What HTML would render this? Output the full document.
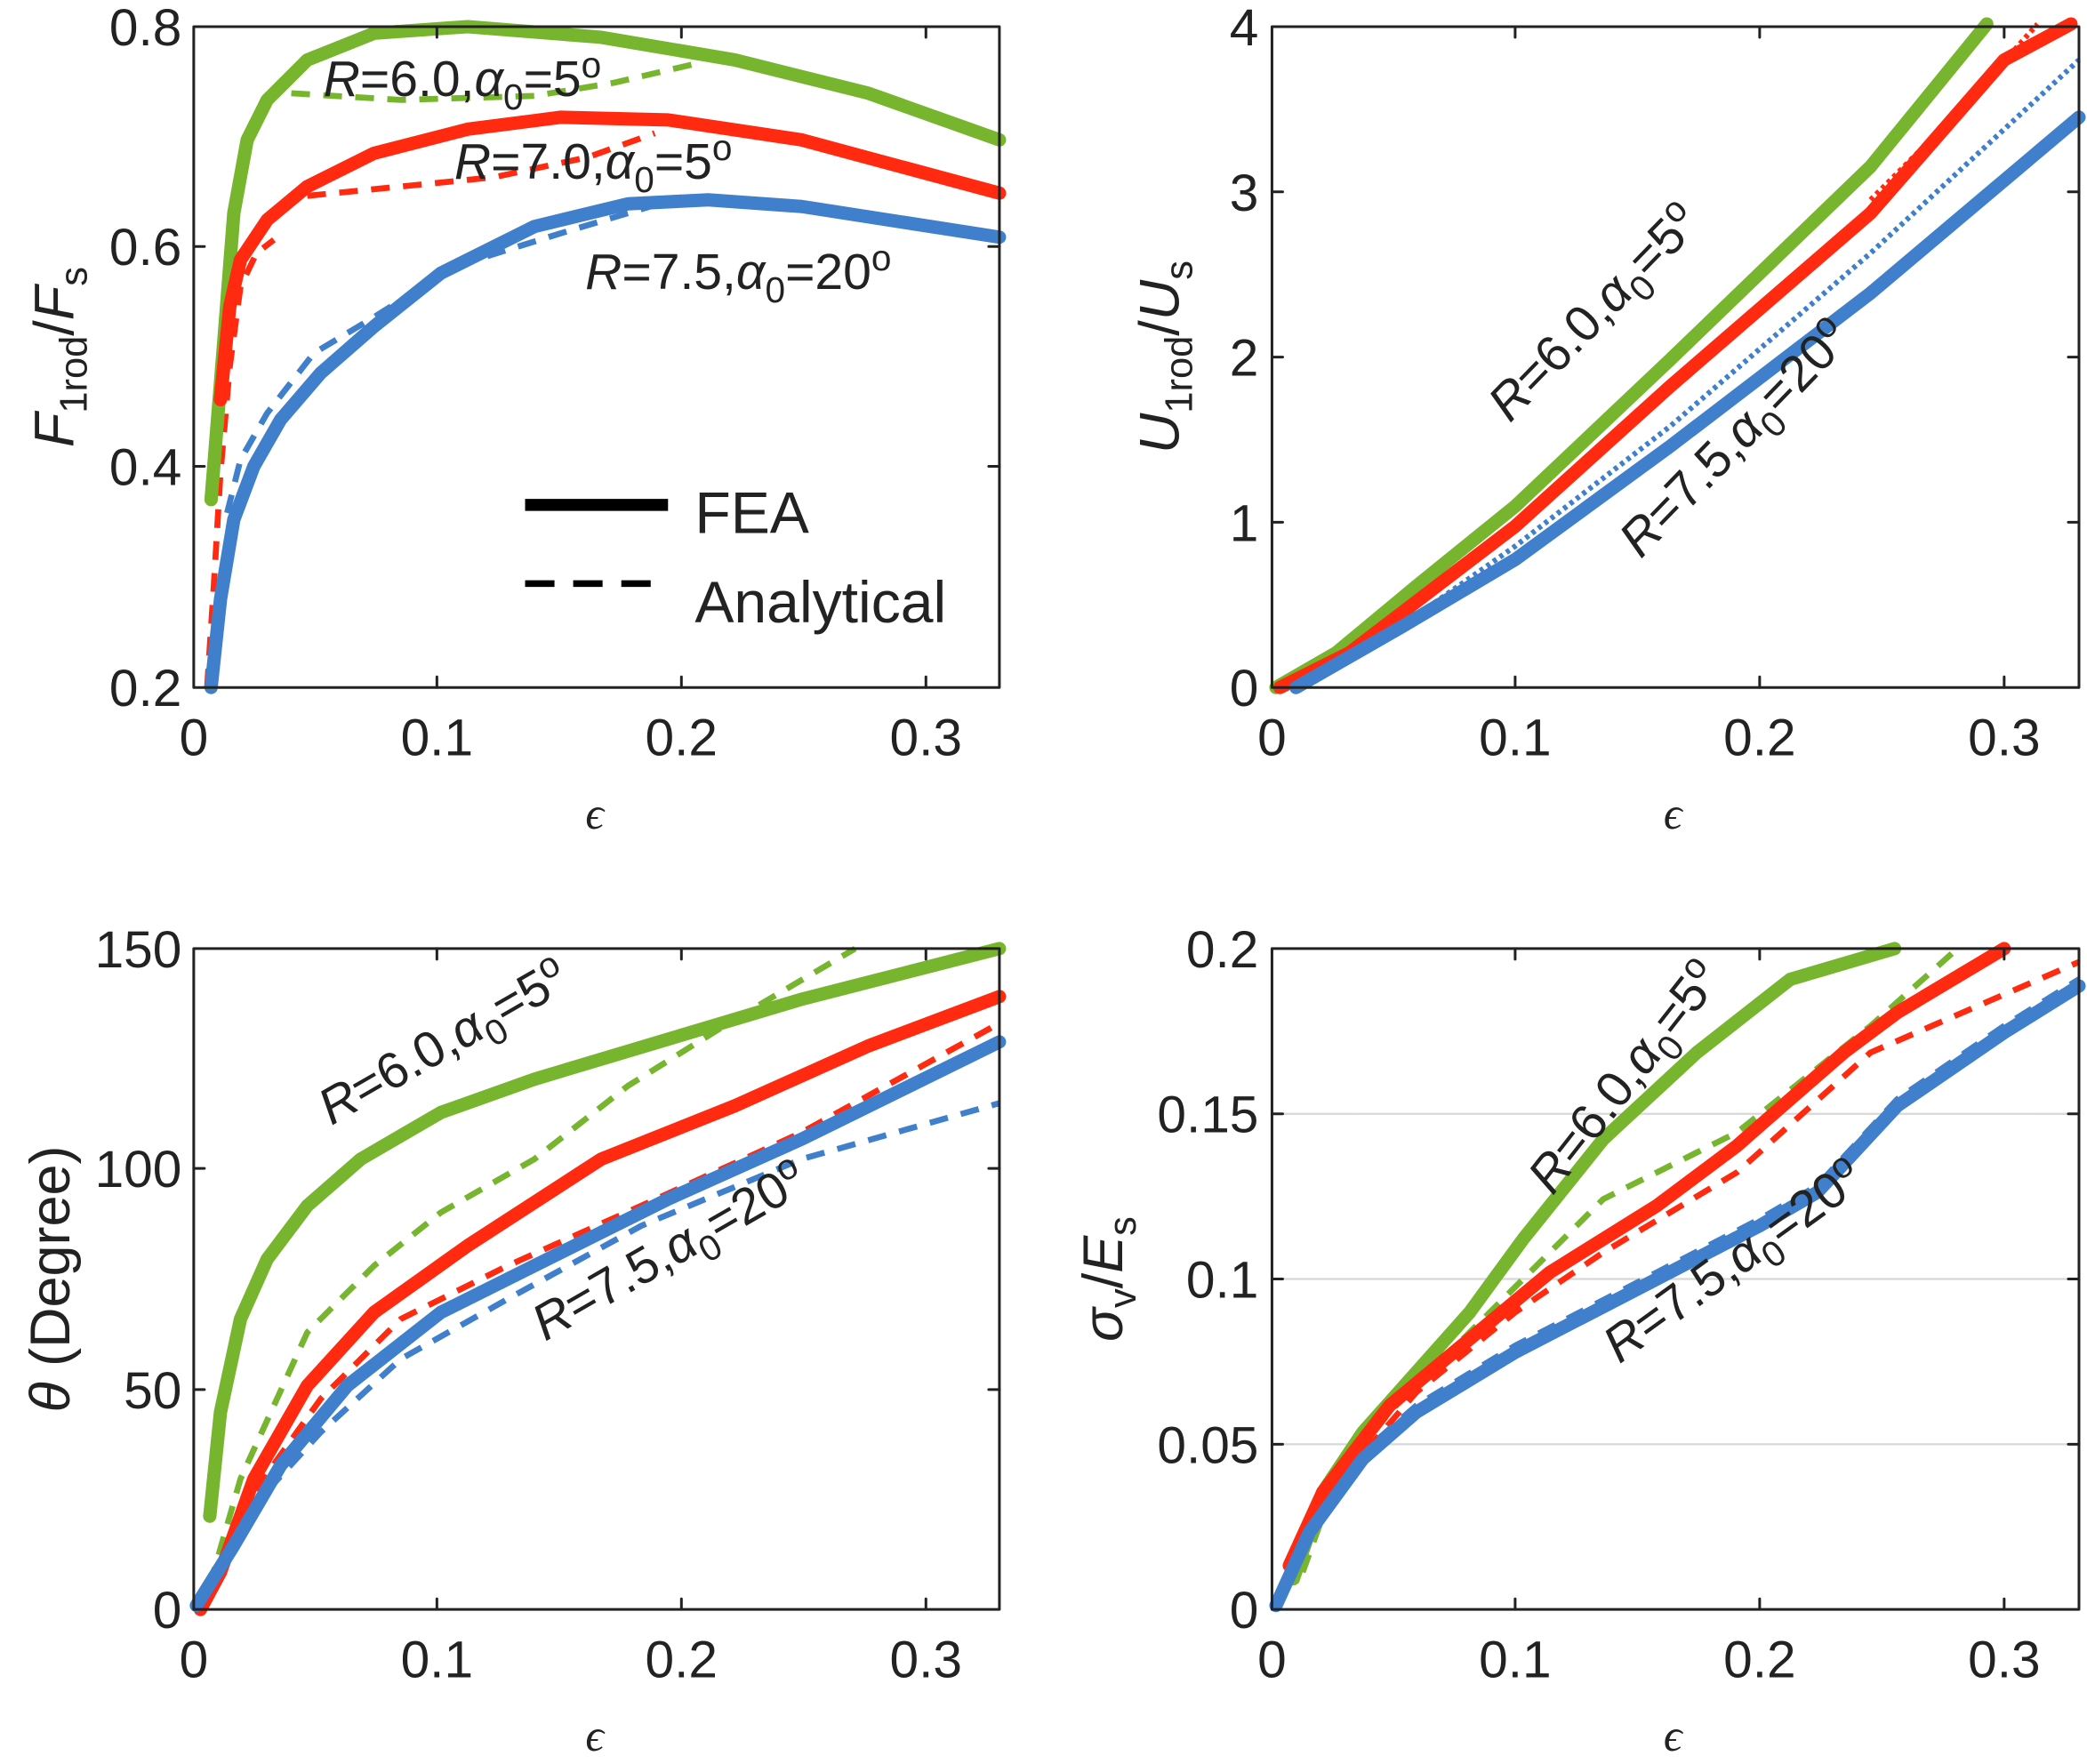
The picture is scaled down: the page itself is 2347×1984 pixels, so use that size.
<!DOCTYPE html>
<html><head><meta charset="utf-8"><style>
html,body{margin:0;padding:0;background:#fff}
svg{display:block}
text{font-family:"Liberation Sans",sans-serif;fill:#222}
</style></head><body>
<svg width="2347" height="1984" viewBox="0 0 1562 1324" preserveAspectRatio="none" xmlns="http://www.w3.org/2000/svg">
<g fill="none" stroke-linejoin="round" stroke-linecap="round">
<g stroke="#d8d8d8" stroke-width="1.5">
<line x1="952" y1="836" x2="1556" y2="836"/><line x1="952" y1="960" x2="1556" y2="960"/><line x1="952" y1="1084" x2="1556" y2="1084"/>
</g>
<!-- Panel 1 -->
<g stroke-width="4.5" stroke-dasharray="14,10" stroke-linecap="butt">
<polyline stroke="#77b52e" points="218,70 300,75 400,72 460,62 520,48"/>
<polyline stroke="#ff2a10" points="155,516 160,440 165,355 172,275 180,215 192,190 205,180"/>
<polyline stroke="#ff2a10" points="230,147 300,140 370,133 440,118 490,100"/>
<polyline stroke="#3f7fcc" points="170,385 180,345 200,310 235,265 280,238 340,200 420,175 510,148"/>
</g>
<g stroke-width="10">
<polyline stroke="#77b52e" points="158,375 168,250 175,160 185,105 200,75 230,45 280,25 350,20 450,28 550,45 650,70 748,105"/>
<polyline stroke="#ff2a10" points="165,300 172,230 180,195 200,165 230,140 280,115 350,97 420,88 500,90 600,105 748,145"/>
<polyline stroke="#3f7fcc" points="158,516 165,450 175,390 190,350 210,315 240,280 280,245 330,205 400,170 470,153 530,150 600,155 748,178"/>
</g>
<line x1="393" y1="379" x2="500" y2="379" stroke="#000" stroke-width="9" stroke-linecap="butt"/>
<line x1="393" y1="438" x2="500" y2="438" stroke="#000" stroke-width="5" stroke-dasharray="22,14" stroke-linecap="butt"/>
<!-- Panel 2 -->
<g stroke-width="4" stroke-dasharray="3,3" stroke-linecap="butt">
<polyline stroke="#ff2a10" points="1400,150 1470,80 1525,18"/>
<polyline stroke="#3f7fcc" points="990,500 1060,462 1134,410 1250,320 1400,190 1556,45"/>
</g>
<g stroke-width="10">
<polyline stroke="#77b52e" points="955,516 1000,490 1060,440 1134,380 1250,270 1400,125 1487,18"/>
<polyline stroke="#ff2a10" points="958,516 1010,490 1134,395 1250,290 1400,160 1500,45 1550,18"/>
<polyline stroke="#3f7fcc" points="970,516 1050,470 1134,420 1250,335 1400,220 1556,88"/>
</g>
<!-- Panel 3 -->
<g stroke-width="4.5" stroke-dasharray="14,10" stroke-linecap="butt">
<polyline stroke="#77b52e" points="157,1190 180,1110 230,1000 280,950 330,910 400,870 470,815 550,765 640,712"/>
<polyline stroke="#ff2a10" points="150,1205 190,1120 240,1050 300,990 380,950 480,905 600,850 748,768"/>
<polyline stroke="#3f7fcc" points="150,1200 190,1130 240,1075 300,1020 380,975 480,920 600,870 748,828"/>
</g>
<g stroke-width="10">
<polyline stroke="#77b52e" points="157,1138 165,1060 180,990 200,945 230,905 270,870 330,835 400,810 500,780 600,750 748,712"/>
<polyline stroke="#ff2a10" points="150,1208 165,1180 190,1110 230,1040 280,985 350,935 450,870 550,830 650,785 748,748"/>
<polyline stroke="#3f7fcc" points="147,1205 175,1160 210,1100 260,1040 330,985 400,950 500,900 600,855 748,782"/>
</g>
<!-- Panel 4 -->
<g stroke-width="4.5" stroke-dasharray="14,10" stroke-linecap="butt">
<polyline stroke="#77b52e" points="975,1180 1000,1110 1040,1060 1100,1000 1150,950 1200,900 1300,850 1400,770 1465,712"/>
<polyline stroke="#ff2a10" points="960,1190 1000,1115 1060,1045 1134,985 1200,940 1300,880 1400,790 1556,722"/>
<polyline stroke="#3f7fcc" points="955,1200 980,1145 1020,1090 1060,1055 1134,1010 1240,955 1317,915 1360,890 1420,825 1500,770 1556,735"/>
</g>
<g stroke-width="10">
<polyline stroke="#77b52e" points="968,1185 990,1120 1020,1075 1060,1030 1100,985 1140,930 1200,855 1270,790 1340,735 1418,712"/>
<polyline stroke="#ff2a10" points="965,1175 990,1120 1040,1055 1100,1005 1160,955 1240,905 1300,860 1317,845 1380,790 1420,760 1500,712"/>
<polyline stroke="#3f7fcc" points="955,1205 980,1150 1020,1095 1060,1060 1134,1015 1240,960 1317,920 1360,895 1420,830 1500,775 1556,740"/>
</g>
<g stroke="#222" stroke-width="2">
<rect x="145" y="20" width="603" height="496"/>
<rect x="952" y="20" width="604" height="496"/>
<rect x="145" y="712" width="603" height="496"/>
<rect x="952" y="712" width="604" height="496"/>
<path d="M327,516v-8M510,516v-8M693,516v-8M327,20v8M510,20v8M693,20v8M145,185h8M145,350h8M748,185h-8M748,350h-8"/>
<path d="M1134,516v-8M1317,516v-8M1500,516v-8M1134,20v8M1317,20v8M1500,20v8M952,144h8M952,268h8M952,392h8M1556,144h-8M1556,268h-8M1556,392h-8"/>
<path d="M327,1208v-8M510,1208v-8M693,1208v-8M327,712v8M510,712v8M693,712v8M145,877h8M145,1043h8M748,877h-8M748,1043h-8"/>
<path d="M1134,1208v-8M1317,1208v-8M1500,1208v-8M1134,712v8M1317,712v8M1500,712v8M952,836h8M952,960h8M952,1084h8M1556,836h-8M1556,960h-8M1556,1084h-8"/>
</g>
</g>
<g font-size="39">
<g text-anchor="middle">
<text x="145" y="567">0</text><text x="327" y="567">0.1</text><text x="510" y="567">0.2</text><text x="693" y="567">0.3</text>
<text x="952" y="567">0</text><text x="1134" y="567">0.1</text><text x="1317" y="567">0.2</text><text x="1500" y="567">0.3</text>
<text x="145" y="1259">0</text><text x="327" y="1259">0.1</text><text x="510" y="1259">0.2</text><text x="693" y="1259">0.3</text>
<text x="952" y="1259">0</text><text x="1134" y="1259">0.1</text><text x="1317" y="1259">0.2</text><text x="1500" y="1259">0.3</text>
</g>
<g text-anchor="end">
<text x="136" y="34">0.8</text><text x="136" y="199">0.6</text><text x="136" y="364">0.4</text><text x="136" y="530">0.2</text>
<text x="942" y="34">4</text><text x="942" y="158">3</text><text x="942" y="282">2</text><text x="942" y="406">1</text><text x="942" y="530">0</text>
<text x="136" y="726">150</text><text x="136" y="891">100</text><text x="136" y="1057">50</text><text x="136" y="1222">0</text>
<text x="942" y="726">0.2</text><text x="942" y="850">0.15</text><text x="942" y="974">0.1</text><text x="942" y="1098">0.05</text><text x="942" y="1222">0</text>
</g>
</g>
<g text-anchor="middle" font-size="34" font-style="italic">
<text x="445" y="622" style="font-family:'Liberation Serif',serif">ϵ</text><text x="1252" y="622" style="font-family:'Liberation Serif',serif">ϵ</text>
<text x="445" y="1314" style="font-family:'Liberation Serif',serif">ϵ</text><text x="1252" y="1314" style="font-family:'Liberation Serif',serif">ϵ</text>
</g>
<text transform="translate(55,268) rotate(-90)" text-anchor="middle" font-size="42"><tspan font-style="italic">F</tspan><tspan font-size="29" dy="10">1rod</tspan><tspan dy="-10">/</tspan><tspan font-style="italic">F</tspan><tspan font-size="29" dy="10">s</tspan></text>
<text transform="translate(882,268) rotate(-90)" text-anchor="middle" font-size="42"><tspan font-style="italic">U</tspan><tspan font-size="29" dy="10">1rod</tspan><tspan dy="-10">/</tspan><tspan font-style="italic">U</tspan><tspan font-size="29" dy="10">s</tspan></text>
<text transform="translate(52,960) rotate(-90)" text-anchor="middle" font-size="42"><tspan font-style="italic">θ</tspan> (Degree)</text>
<text transform="translate(840,960) rotate(-90)" text-anchor="middle" font-size="42"><tspan font-style="italic">σ</tspan><tspan font-size="29" dy="10">v</tspan><tspan dy="-10">/</tspan><tspan font-style="italic">E</tspan><tspan font-size="29" dy="10">s</tspan></text>
<text x="520" y="400" font-size="44">FEA</text>
<text x="520" y="467" font-size="44">Analytical</text>
<g font-size="38">
<text x="242" y="72"><tspan font-style="italic">R</tspan>=6.0,<tspan font-style="italic">α</tspan><tspan font-size="27" dy="10">0</tspan><tspan dy="-10">=5</tspan><tspan font-size="27" dy="-14">o</tspan></text>
<text x="340" y="134"><tspan font-style="italic">R</tspan>=7.0,<tspan font-style="italic">α</tspan><tspan font-size="27" dy="10">0</tspan><tspan dy="-10">=5</tspan><tspan font-size="27" dy="-14">o</tspan></text>
<text x="438" y="217"><tspan font-style="italic">R</tspan>=7.5,<tspan font-style="italic">α</tspan><tspan font-size="27" dy="10">0</tspan><tspan dy="-10">=20</tspan><tspan font-size="27" dy="-14">o</tspan></text>
<text transform="translate(1130,318) rotate(-46)"><tspan font-style="italic">R</tspan>=6.0,<tspan font-style="italic">α</tspan><tspan font-size="27" dy="10">0</tspan><tspan dy="-10">=5</tspan><tspan font-size="27" dy="-14">o</tspan></text>
<text transform="translate(1228,420) rotate(-46)"><tspan font-style="italic">R</tspan>=7.5,<tspan font-style="italic">α</tspan><tspan font-size="27" dy="10">0</tspan><tspan dy="-10">=20</tspan><tspan font-size="27" dy="-14">o</tspan></text>
<text transform="translate(248,845) rotate(-30)"><tspan font-style="italic">R</tspan>=6.0,<tspan font-style="italic">α</tspan><tspan font-size="27" dy="10">0</tspan><tspan dy="-10">=5</tspan><tspan font-size="27" dy="-14">o</tspan></text>
<text transform="translate(408,1007) rotate(-30)"><tspan font-style="italic">R</tspan>=7.5,<tspan font-style="italic">α</tspan><tspan font-size="27" dy="10">0</tspan><tspan dy="-10">=20</tspan><tspan font-size="27" dy="-14">o</tspan></text>
<text transform="translate(1162,898) rotate(-52)"><tspan font-style="italic">R</tspan>=6.0,<tspan font-style="italic">α</tspan><tspan font-size="27" dy="10">0</tspan><tspan dy="-10">=5</tspan><tspan font-size="27" dy="-14">o</tspan></text>
<text transform="translate(1212,1024) rotate(-36)"><tspan font-style="italic">R</tspan>=7.5,<tspan font-style="italic">α</tspan><tspan font-size="27" dy="10">0</tspan><tspan dy="-10">=20</tspan><tspan font-size="27" dy="-14">o</tspan></text>
</g>
</svg>
</body></html>
